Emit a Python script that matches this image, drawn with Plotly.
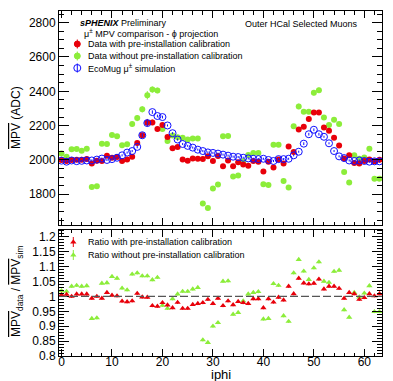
import plotly.graph_objects as go

# ---------------- data ----------------
iphi = list(range(64))

mpv_sim = [1996, 1990, 1997, 1993, 1995, 1997, 1997, 2002, 2008, 2000, 2005, 2013, 2027, 2043, 2052, 2076,
           2144, 2215, 2279, 2256, 2250, 2201, 2156, 2119, 2093, 2082, 2072, 2060, 2052, 2044, 2041, 2037,
           2031, 2025, 2019, 2017, 2013, 2009, 2007, 2005, 2007, 2000, 1994, 2005, 2005, 2007, 2027, 2048,
           2095, 2150, 2176, 2150, 2135, 2097, 2052, 2021, 2011, 1997, 1994, 1997, 1994, 1990, 1992, 1992]

mpv_cal = [2000, 1994, 2000, 2001, 2001, 2005, 1980, 1996, 1994, 2025, 2013, 2017, 1994, 2003, 2019, 2099,
           2144, 2217, 2219, 2180, 2203, 2134, 2068, 2076, 2003, 1996, 2009, 2007, 2005, 2021, 1994, 2023,
           1964, 1997, 1964, 1986, 1974, 1966, 1994, 1990, 1933, 1990, 1956, 2003, 1980, 2078, 2046, 2178,
           2193, 2238, 2277, 2277, 2189, 2170, 2129, 2084, 2009, 2027, 1982, 1980, 1994, 2003, 1992, 2001]

mpv_nocal = [2037, 2019, 2062, 2064, 2054, 2066, 1843, 1847, 2095, 2093, 2146, 2138, 2086, 2091, 2209, 2244,
             2295, 2377, 2410, 2405, 2180, 2111, 2142, 2133, 2129, 2119, 2125, 2125, 1747, 1720, 1833, 1857,
             2138, 2139, 1903, 1909, 1992, 2029, 2040, 2040, 1858, 1854, 2089, 2089, 1877, 1840, 2196, 2312,
             2281, 2281, 2392, 2406, 2248, 2204, 2235, 2209, 1930, 1868, 2027, 2007, 2015, 2066, 1891, 1891]

err_sim = [6, 6, 6, 6, 6, 6, 6, 6, 6, 6, 6, 6, 6, 6, 6, 8,
           12, 16, 10, 8, 8, 6, 6, 6, 6, 6, 6, 6, 6, 6, 6, 6,
           6, 6, 6, 6, 6, 6, 6, 6, 6, 6, 6, 6, 6, 6, 6, 6,
           8, 8, 8, 8, 6, 6, 6, 6, 6, 6, 6, 6, 6, 6, 6, 6]

err_cal = [8, 8, 8, 8, 8, 8, 8, 8, 8, 8, 8, 8, 8, 8, 8, 12,
           14, 22, 16, 12, 12, 8, 8, 8, 8, 8, 8, 8, 8, 8, 8, 8,
           8, 8, 8, 8, 8, 8, 8, 8, 8, 8, 8, 8, 8, 8, 8, 12,
           12, 14, 14, 14, 8, 8, 8, 8, 8, 8, 8, 8, 8, 8, 8, 8]

err_nocal = [8, 8, 8, 8, 8, 8, 8, 8, 8, 8, 8, 8, 8, 8, 14, 18,
             18, 24, 18, 16, 8, 8, 8, 8, 8, 8, 8, 8, 8, 8, 8, 8,
             8, 8, 8, 8, 8, 8, 8, 8, 8, 8, 8, 8, 8, 8, 12, 16,
             8, 8, 16, 16, 8, 8, 8, 8, 8, 8, 8, 8, 8, 8, 8, 8]

ratio_cal = [1.006, 1.007, 1.000, 1.008, 1.008, 1.008, 0.994, 1.000, 0.994, 1.013, 1.004, 1.002, 0.984, 0.982, 0.985, 1.010,
             0.998, 0.997, 0.969, 0.967, 0.979, 0.971, 0.962, 0.980, 0.960, 0.960, 0.973, 0.976, 0.979, 0.990, 0.976, 0.994,
             0.969, 0.985, 0.972, 0.983, 0.979, 0.976, 0.992, 0.992, 0.962, 0.992, 0.981, 0.997, 0.988, 1.034, 1.009, 1.061,
             1.045, 1.042, 1.044, 1.058, 1.025, 1.034, 1.034, 1.027, 0.994, 1.013, 1.009, 0.990, 0.996, 1.009, 1.002, 1.009]

ratio_nocal = [1.019, 1.017, 1.034, 1.037, 1.034, 1.036, 0.926, 0.928, 1.044, 1.046, 1.067, 1.061, 1.028, 1.022, 1.075, 1.079,
               1.069, 1.069, 1.056, 1.064, 0.970, 0.960, 0.992, 1.008, 1.017, 1.017, 1.025, 1.030, 0.854, 0.845, 0.900, 0.912,
               1.051, 1.052, 0.940, 0.946, 0.985, 1.008, 1.013, 1.016, 0.924, 0.926, 1.043, 1.037, 0.935, 0.916, 1.079, 1.124,
               1.085, 1.057, 1.096, 1.116, 1.051, 1.047, 1.084, 1.088, 0.955, 0.930, 1.013, 0.998, 1.011, 1.036, 0.949, 0.949]

err_ratio = [0.005] * 64

# ---------------- layout constants ----------------
# the page body adds an 8px offset; positions below are given in window pixels
OFF = 8
W, H = 393 - OFF, 381 - OFF
ML, MR, MT, MB = 51, 11, 3, 25
PW = W - ML - MR
PH = H - MT - MB

def py2p(py):
    return (H - MB - (py - OFF)) / PH

def px2p(px):
    return (px - OFF - ML) / PW

TOP_DOM = [py2p(225), 1.0]
BOT_DOM = [0.0, py2p(229.5)]

RED = "#e8000a"
GREEN = "#8ced3a"
BLUE = "#1010ff"
FONT = "Liberation Sans, Arial, Helvetica, sans-serif"

fig = go.Figure()

def ebar(arr, color):
    return dict(type="data", array=arr, visible=True, color=color, thickness=1, width=0)

# top panel
fig.add_trace(go.Scatter(x=iphi, y=mpv_nocal, mode="markers", xaxis="x2", yaxis="y2",
                         marker=dict(symbol="circle", size=6, color=GREEN),
                         error_y=ebar(err_nocal, GREEN), showlegend=False))
fig.add_trace(go.Scatter(x=iphi, y=mpv_cal, mode="markers", xaxis="x2", yaxis="y2",
                         marker=dict(symbol="circle", size=6, color=RED),
                         error_y=ebar(err_cal, RED), showlegend=False))
fig.add_trace(go.Scatter(x=iphi, y=mpv_sim, mode="markers", xaxis="x2", yaxis="y2",
                         marker=dict(symbol="circle-open", size=7, color=BLUE, line=dict(width=1, color=BLUE)),
                         error_y=ebar(err_sim, BLUE), showlegend=False))

# ratio panel
fig.add_trace(go.Scatter(x=iphi, y=ratio_nocal, mode="markers", xaxis="x", yaxis="y",
                         marker=dict(symbol="triangle-up", size=5.5, color=GREEN),
                         error_y=ebar(err_ratio, GREEN), showlegend=False))
fig.add_trace(go.Scatter(x=iphi, y=ratio_cal, mode="markers", xaxis="x", yaxis="y",
                         marker=dict(symbol="triangle-up", size=5.5, color=RED),
                         error_y=ebar(err_ratio, RED), showlegend=False))

# legend keys (drawn on hidden overlay axes; positions are layout, not data)
LEG_TOP = [(77.3, 44, RED, "circle", 6), (77.3, 56, GREEN, "circle", 6), (77.3, 68, BLUE, "circle-open", 7)]
for (lx, ly, c, sym, sz) in LEG_TOP:
    fig.add_trace(go.Scatter(x=[px2p(lx)], y=[(225 - ly) / 214.0], mode="markers", xaxis="x3", yaxis="y3",
                             marker=dict(symbol=sym, size=sz, color=c, line=dict(width=1, color=c)),
                             error_y=dict(type="constant", value=4.5 / 214.0, color=c, thickness=1, width=0),
                             showlegend=False, hoverinfo="skip"))
LEG_BOT = [(73.3, 242, RED), (73.3, 255, GREEN)]
for (lx, ly, c) in LEG_BOT:
    fig.add_trace(go.Scatter(x=[px2p(lx)], y=[(356 - ly) / 126.5], mode="markers", xaxis="x4", yaxis="y4",
                             marker=dict(symbol="triangle-up", size=5.5, color=c),
                             error_y=dict(type="constant", value=5 / 126.5, color=c, thickness=1, width=0),
                             showlegend=False, hoverinfo="skip"))

common = dict(showline=True, linecolor="black", linewidth=1, mirror="allticks", ticks="inside",
              tickcolor="black", tickwidth=1, showgrid=False, zeroline=False,
              tickfont=dict(family=FONT, size=12, color="black"))

fig.update_layout(
    width=W, height=H,
    margin=dict(l=ML, r=MR, t=MT, b=MB),
    paper_bgcolor="white", plot_bgcolor="rgba(0,0,0,0)",
    font=dict(family=FONT, color="black"),
    showlegend=False,
    xaxis=dict(domain=[0, 1], anchor="y", range=[-0.5, 63.5], tickmode="linear", tick0=0, dtick=10,
               ticklen=7, ticklabelstandoff=-5,
               minor=dict(ticks="inside", dtick=2, ticklen=3.5, tickcolor="black"),
               **common),
    xaxis2=dict(domain=[0, 1], anchor="y2", range=[-0.5, 63.5], tickmode="linear", tick0=0, dtick=10,
                showticklabels=False, ticklen=7,
                minor=dict(ticks="inside", dtick=2, ticklen=3.5, tickcolor="black"),
                **common),
    yaxis=dict(domain=BOT_DOM, anchor="x", range=[0.8, 1.225], tickmode="linear", tick0=0.8, dtick=0.05,
               ticklen=10,
               minor=dict(ticks="inside", dtick=0.01, ticklen=5, tickcolor="black"),
               **common),
    yaxis2=dict(domain=TOP_DOM, anchor="x2", range=[1621, 2868], tickmode="linear", tick0=1800, dtick=200,
                ticklen=10,
                minor=dict(ticks="inside", dtick=50, ticklen=5, tickcolor="black"),
                **common),
    xaxis3=dict(domain=[0, 1], anchor="y3", range=[0, 1], visible=False),
    yaxis3=dict(domain=TOP_DOM, anchor="x3", range=[0, 1], visible=False),
    xaxis4=dict(domain=[0, 1], anchor="y4", range=[0, 1], visible=False),
    yaxis4=dict(domain=BOT_DOM, anchor="x4", range=[0, 1], visible=False),
)

# dashed reference line at ratio = 1
fig.add_shape(type="line", xref="x domain", yref="y", x0=0, x1=1, y0=1, y1=1,
              line=dict(color="#555555", width=1.3, dash="8px,3px"))

OV = '<span style="text-decoration:overline">MPV</span>'

def ann(px, py, text, size=9, xanchor="left", angle=0):
    fig.add_annotation(x=px2p(px), y=py2p(py), xref="paper", yref="paper", text=text, showarrow=False,
                       xanchor=xanchor, yanchor="middle", textangle=angle,
                       font=dict(family=FONT, size=size, color="black"))

ann(78, 23, "<b><i>sPHENIX</i></b> Preliminary")
ann(82, 33.5, "μ<sup>±</sup> MPV comparison - ϕ projection")
ann(86, 44, "Data with pre-installation calibration")
ann(86, 56, "Data without pre-installation calibration")
ann(86, 68, "EcoMug μ<sup>±</sup> simulation")
ann(360, 24, "Outer HCal Selected Muons", xanchor="right")
ann(86, 242, "Ratio with pre-installation calibration")
ann(86, 255, "Ratio without pre-installation calibration")

ann(16, 118, OV + " (ADC)", size=12, xanchor="center", angle=-90)
ann(17, 292, OV + "<sub>data</sub> / " + OV + "<sub>sim</sub>", size=12, xanchor="center", angle=-90)
ann(221, 374.5, "iphi", size=13, xanchor="center")

fig.write_html("out.html")
